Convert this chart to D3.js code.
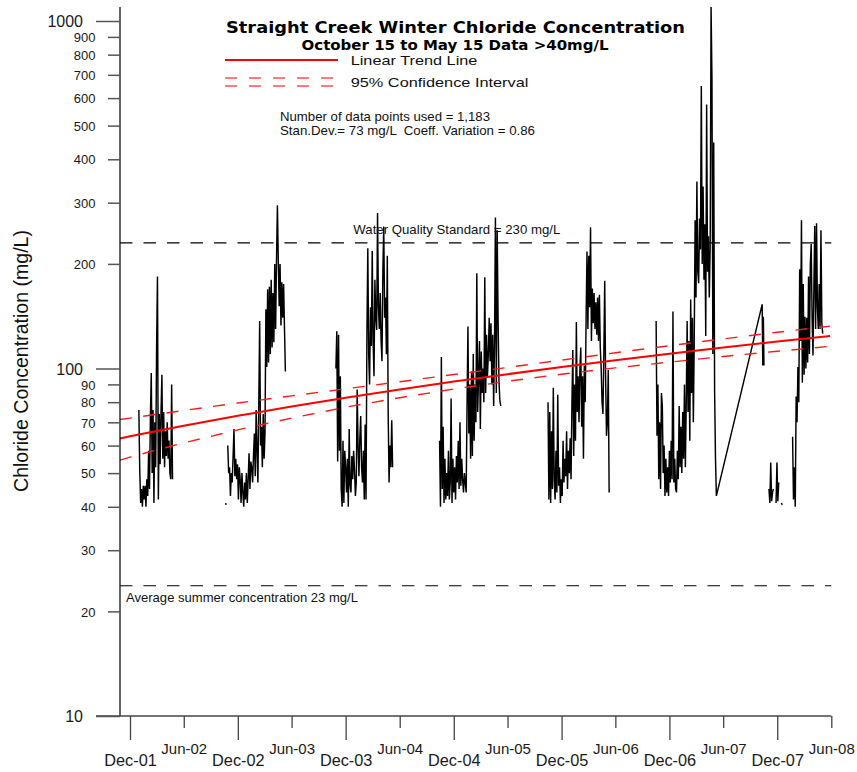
<!DOCTYPE html>
<html><head><meta charset="utf-8">
<script src="https://cdn.jsdelivr.net/npm/d3@7"></script>
<style>body{margin:0;background:#fff}svg{display:block}</style>
</head><body>
<svg id="chart" width="857" height="772"></svg>
<script>
// ---------- DATA ----------
// Winter chloride series, mg/L; each winter sampled every `step` days from its start date
const winter2002 = [76,51,41,45,40,46,42,46,40,48,43,58,45,72,97,50,76,41,70,52,115,184,42,74,53,75,96,55,75,52,66,56,70,55,62,50,48,90,48];
const dot2002 = [41,40.5];
const winter2003 = [60,50,52,43,50,47,56,67,49,55,48,53,42,52,48,41,50,44,40,47,42,50,41,48,57,45,54,52,47,56,65,49,76,58,47,80,137,60,68,52,74,55,65,148,101,169,104,172,110,180,115,165,119,200,130,207,295,205,151,200,133,177,140,175,130,98];
const winter2004 = [100,128,54,125,58,95,45,40,62,41,58,52,44,55,40,67,46,44,56,48,58,51,43,47,87,60,49,63,73,52,47,58,42,69,42,126,222,110,90,150,116,218,120,95,180,140,129,280,150,130,165,120,105,192,256,140,160,110,211,74,47,60,52,71,52];
const winter2005 = [62,40,108,45,68,41,55,42,50,43,58,42,47,82,41,55,44,52,42,56,47,62,45,70,46,55,48,44,50,47,44,80,132,65,90,55,98,56,110,62,90,70,188,75,95,120,67,112,85,100,80,183,85,125,95,110,140,105,135,90,125,78,120,272,85,250,140,92,81,78];
const winter2006 = [80,42,75,41,66,45,88,48,42,58,44,84,46,52,41,48,43,62,47,55,49,66,45,58,50,63,48,80,113,56,90,62,136,75,95,70,100,115,68,95,55,102,80,140,217,130,211,150,255,120,170,135,165,130,155,125,160,120,163,115,100,80,74,110,179,95,64,70,99,44];
const winter2007 = [137,64,90,48,70,45,85,78,50,60,43,55,44,52,43,58,47,62,48,146,47,55,45,44,58,48,78,52,68,50,75,55,90,52,80,137,75,120,62,158,85,140,70,120,267,160,345,190,176,270,220,650,200,334,180,260,124,575,190,240,160,224,1098,686,110,447,86,55,43];
const oct2007 = [153,102,141,102];
const winter2008a = [45,41,53.6,41.5,44,45,null,null,41,53.6,41.5,47,null,null,41,40.5];
const winter2008b = [63.6,42,52,40,83,70,101,80,193,120,267,91,175,96,141,100,140,104,184,110,200,228,140,109,170,257,130,262,150,130,175,130,250,135,126];

const segmentStarts = ["2001-12-31","2002-10-21","2002-10-28","2003-10-29","2004-10-14","2005-10-16","2006-10-17","2007-10-11","2007-11-03","2008-01-22"];
const segmentSteps  = [3,1,3,3,3,3,3,2,3,3];
const segmentValues = [winter2002,dot2002,winter2003,winter2004,winter2005,winter2006,winter2007,oct2007,winter2008a,winter2008b];
const segmentJoinPrev = [false,false,false,false,false,false,false,true,false,false];

// Trend line and 95% confidence band, read at the axis tick dates
const trendDates = ["2001-10-28","2001-12-01","2002-06-01","2002-12-01","2003-06-01","2003-12-01","2004-06-01","2004-12-01","2005-06-01","2005-12-01","2006-06-01","2006-12-01","2007-06-01","2007-12-01","2008-05-28"];
const trendValues = [62.9,63.8,68.4,73.1,77.7,82.4,87.0,91.7,96.3,101.0,105.7,110.3,115.0,119.6,124.1];
const upperValues = [71.3,72.0,75.7,79.6,83.4,87.4,91.6,96.1,100.7,105.7,111.0,116.3,121.7,127.1,132.4];
const lowerValues = [54.5,55.6,61.1,66.6,72.0,77.4,82.4,87.3,91.9,96.3,100.4,104.3,108.3,112.1,115.8];

const standardValue = 230;
const summerValue = 23.7;
const refRange = ["2001-10-28","2008-06-01"];

const decDates = ["2001-12-01","2002-12-01","2003-12-01","2004-12-01","2005-12-01","2006-12-01","2007-12-01"];
const decLabels = ["Dec-01","Dec-02","Dec-03","Dec-04","Dec-05","Dec-06","Dec-07"];
const junDates = ["2002-06-01","2003-06-01","2004-06-01","2005-06-01","2006-06-01","2007-06-01","2008-06-01"];
const junLabels = ["Jun-02","Jun-03","Jun-04","Jun-05","Jun-06","Jun-07","Jun-08"];
const majorTicks = [10,100,1000];
const minorTicks = [20,30,40,50,60,70,80,90,200,300,400,500,600,700,800,900];

// ---------- DRAWING ----------
const svg = d3.select("#chart");
const parse = d3.utcParse("%Y-%m-%d");
const x = d3.scaleUtc().domain([parse("2001-12-01"), parse("2008-06-01")]).range([130, 831.3]);
const y = d3.scaleLog().domain([10, 1100]).range([716, 716 - 347.5 * Math.log10(110)]);
const SANS = "'Liberation Sans', Arial, Helvetica, sans-serif";

// build the series: array of runs
const runs = [];
segmentValues.forEach((vals, s) => {
  const start = parse(segmentStarts[s]);
  const pts = vals.map((v, i) => ({date: d3.utcDay.offset(start, i * segmentSteps[s]), value: v}));
  if (segmentJoinPrev[s] && runs.length) runs[runs.length - 1] = runs[runs.length - 1].concat(pts);
  else runs.push(pts);
});

const dataLine = d3.line().defined(d => d.value != null).x(d => x(d.date)).y(d => y(d.value));
svg.append("g").selectAll("path").data(runs).join("path")
  .attr("d", dataLine).attr("fill", "none").attr("stroke", "#000")
  .attr("stroke-width", 1.45).attr("stroke-linejoin", "miter").attr("stroke-linecap", "butt");

// reference lines
[[standardValue],[summerValue]].forEach(([v]) => {
  svg.append("line").attr("x1", x(parse(refRange[0]))).attr("x2", x(parse(refRange[1])))
    .attr("y1", y(v)).attr("y2", y(v)).attr("stroke", "#000").attr("stroke-width", 1.2)
    .attr("stroke-dasharray", "12.5,11");
});

// trend + CI
const tl = d3.line().x((d, i) => x(parse(trendDates[i]))).y(d => y(d));
svg.append("path").attr("d", tl(upperValues)).attr("fill", "none").attr("stroke", "#ff1a1a")
  .attr("stroke-width", 1.4).attr("stroke-dasharray", "12,11.5");
svg.append("path").attr("d", tl(lowerValues)).attr("fill", "none").attr("stroke", "#ff1a1a")
  .attr("stroke-width", 1.4).attr("stroke-dasharray", "12,11.5");
svg.append("path").attr("d", tl(trendValues)).attr("fill", "none").attr("stroke", "#ff0000")
  .attr("stroke-width", 2);

// axes lines
svg.append("line").attr("x1", 120).attr("x2", 120).attr("y1", 7).attr("y2", 716)
  .attr("stroke", "#000").attr("stroke-width", 1.2);
svg.append("line").attr("x1", 96).attr("x2", x(parse("2008-06-01"))).attr("y1", 716).attr("y2", 716)
  .attr("stroke", "#444").attr("stroke-width", 1.4);

// y axis ticks via d3 axes
const yMajor = d3.axisLeft(y).tickValues(majorTicks).tickSize(24).tickSizeOuter(0).tickPadding(13).tickFormat(d3.format("d"));
const yMinor = d3.axisLeft(y).tickValues(minorTicks).tickSize(12).tickSizeOuter(0).tickPadding(12.5).tickFormat(d3.format("d"));
const gYM = svg.append("g").attr("transform", "translate(120,0)").call(yMajor);
const gYm = svg.append("g").attr("transform", "translate(120,0)").call(yMinor);
[gYM, gYm].forEach((g, k) => {
  g.select(".domain").remove();
  g.selectAll(".tick line").attr("stroke", "#555").attr("stroke-width", 1.5);
  g.selectAll(".tick text").attr("fill", "#1a1a1a").attr("font-family", SANS)
    .attr("font-size", k === 0 ? 16 : 13).attr("dy", "0.36em");
});

// x axis ticks
const xDec = d3.axisBottom(x).tickValues(decDates.map(parse)).tickSize(24).tickSizeOuter(0)
  .tickFormat((d, i) => decLabels[i]);
const xJun = d3.axisBottom(x).tickValues(junDates.map(parse)).tickSize(12).tickSizeOuter(0)
  .tickFormat((d, i) => junLabels[i]);
const gXD = svg.append("g").attr("transform", "translate(0,716)").call(xDec);
const gXJ = svg.append("g").attr("transform", "translate(0,716)").call(xJun);
[[gXD, 50, 16.3], [gXJ, 38, 15]].forEach(([g, yy, fs]) => {
  g.select(".domain").remove();
  g.selectAll(".tick line").attr("stroke", "#444").attr("stroke-width", 1.3);
  g.selectAll(".tick text").attr("y", yy).attr("dy", 0).attr("fill", "#1a1a1a")
    .attr("font-family", SANS).attr("font-size", fs);
});

// text helper
function txt(x0, y0, s, size, width, opts = {}) {
  const t = svg.append("text").attr("x", x0).attr("y", y0).text(s)
    .attr("font-family", opts.family || SANS).attr("font-size", size)
    .attr("font-weight", opts.weight || "normal").attr("fill", opts.fill || "#111")
    .style("white-space", "pre");
  if (width) t.attr("textLength", width).attr("lengthAdjust", "spacingAndGlyphs");
  if (opts.anchor) t.attr("text-anchor", opts.anchor);
  if (opts.transform) t.attr("transform", opts.transform);
  return t;
}

// titles
txt(226, 33, "Straight Creek Winter Chloride Concentration", 16.5, 459, {weight: "bold", family: "'DejaVu Sans', sans-serif", fill: "#000"});
txt(301.5, 49.5, "October 15 to May 15 Data >40mg/L", 13.5, 307, {weight: "bold", family: "'DejaVu Sans', sans-serif", fill: "#000"});

// legend
svg.append("line").attr("x1", 225).attr("x2", 338).attr("y1", 60).attr("y2", 60)
  .attr("stroke", "#ff0000").attr("stroke-width", 2);
[78, 86].forEach(yy => svg.append("line").attr("x1", 225).attr("x2", 333).attr("y1", yy).attr("y2", yy)
  .attr("stroke", "#ff5050").attr("stroke-width", 1.6).attr("stroke-dasharray", "12,12"));
txt(350.7, 65.3, "Linear Trend Line", 13.5, 126.7);
txt(350.7, 86.6, "95% Confidence Interval", 13.5, 177.7);
txt(280, 120.7, "Number of data points used = 1,183", 12.6, 210);
txt(280, 135, "Stan.Dev.= 73 mg/L  Coeff. Variation = 0.86", 12.6, 255);

// reference labels
txt(353.3, 233.5, "Water Quality Standard = 230 mg/L", 13.3, 207);
txt(126, 601.5, "Average summer concentration 23 mg/L", 13, 232);

// y-axis title
txt(0, 0, "Chloride Concentration (mg/L)", 19.5, 262, {anchor: "middle", transform: "translate(28,361) rotate(-90)", fill: "#111"});
</script>
</body></html>
